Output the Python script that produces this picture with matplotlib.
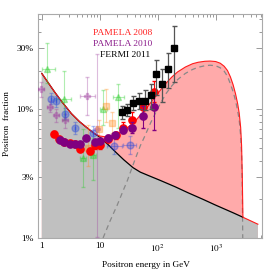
import matplotlib
matplotlib.use("Agg")
import matplotlib.pyplot as plt
from matplotlib.ticker import FixedLocator, NullFormatter

plt.rcParams['font.family'] = ['Liberation Serif', 'DejaVu Serif']
plt.rcParams['mathtext.fontset'] = 'stix'

# ---- model curves ----
bkg_E = [1, 1.3, 1.67, 2.2, 3.24, 4.5, 6.28, 8, 10, 14, 19, 26, 37.5, 50, 70, 109, 200,
         331, 600, 1000, 2000, 2950, 5350]
bkg_f = [0.190, 0.160, 0.136, 0.115, 0.0926, 0.080, 0.0708, 0.065, 0.0609, 0.053, 0.0463,
         0.0405, 0.0352, 0.0325, 0.0305, 0.0281, 0.0250, 0.0225, 0.0200, 0.0180, 0.0157,
         0.0145, 0.0128]

tot_E = [1, 1.3, 1.67, 2.2, 3.24, 4.5, 6.28, 8, 10, 13, 16, 20, 25, 30, 40, 50, 60, 75, 90,
         110, 140, 175, 220, 300, 400, 500, 650, 800, 1000, 1200, 1400, 1600, 1800, 2000,
         2200, 2400, 2550, 2700, 2800, 2880, 2930, 2950, 5350]
tot_f = [0.190, 0.160, 0.136, 0.115, 0.0926, 0.080, 0.0708, 0.065, 0.0620, 0.0610, 0.062,
         0.064, 0.068, 0.072, 0.080, 0.090, 0.098, 0.112, 0.125, 0.140, 0.160, 0.178, 0.195,
         0.213, 0.226, 0.232, 0.236, 0.237, 0.235, 0.228, 0.216, 0.200, 0.178, 0.155, 0.132,
         0.110, 0.093, 0.072, 0.052, 0.030, 0.018, 0.0145, 0.0128]

sig_E = [11.4, 15, 20, 25, 30, 40, 50, 60, 75, 90, 110, 140, 175, 220, 300, 400, 500, 650,
         800, 1000, 1200, 1400, 1600, 1800, 2000, 2200, 2400, 2550, 2700, 2800, 2880, 2930,
         2950]
sig_f = [0.010, 0.0135, 0.018, 0.023, 0.028, 0.040, 0.052, 0.062, 0.078, 0.092, 0.110, 0.133,
         0.152, 0.170, 0.190, 0.204, 0.212, 0.218, 0.220, 0.218, 0.210, 0.198, 0.180, 0.157,
         0.137, 0.117, 0.097, 0.082, 0.062, 0.045, 0.025, 0.010, 0.005]

# ---- PAMELA 2008 ----
p08_E = [1.63, 1.96, 2.42, 3.04, 3.8, 4.52, 6.89, 8.4, 10.1, 14.1, 18.9, 25.5, 36.5, 55.8, 84.7]
p08_f = [0.0647, 0.0592, 0.0557, 0.0547, 0.0537, 0.0494, 0.0473, 0.0525, 0.0525, 0.0592,
         0.0628, 0.0721, 0.082, 0.104, 0.136]
p08_lo = [0.062, 0.057, 0.0535, 0.0525, 0.0515, 0.0472, 0.0450, 0.0495, 0.0495, 0.0555,
          0.0585, 0.066, 0.0708, 0.0898, 0.114]
p08_hi = [0.0675, 0.0615, 0.058, 0.057, 0.056, 0.0516, 0.0496, 0.0555, 0.0555, 0.063,
          0.067, 0.079, 0.0953, 0.121, 0.167]

# ---- PAMELA 2010 ----
p10_E = [2.04, 2.42, 3.04, 3.7, 4.52, 5.87, 8.2, 10, 13.9, 18.1, 25.5, 36.5, 56.4, 84.7]
p10_f = [0.058, 0.0557, 0.0541, 0.0541, 0.0541, 0.0598, 0.0557, 0.0564, 0.0603, 0.0628,
         0.0695, 0.072, 0.0882, 0.104]
p10_lo = [0.0565, 0.0543, 0.0528, 0.0528, 0.0527, 0.058, 0.054, 0.0545, 0.058, 0.060,
          0.065, 0.065, 0.071, 0.0687]
p10_hi = [0.0595, 0.0571, 0.0555, 0.0555, 0.0556, 0.0616, 0.0575, 0.0584, 0.0627, 0.0658,
          0.0742, 0.080, 0.106, 0.128]

# ---- FERMI 2011 ----
fer_E = [23.9, 29.6, 37.5, 47.2, 59.2, 75.2, 94.6, 118, 151, 191]
fer_f = [0.0948, 0.0982, 0.112, 0.116, 0.116, 0.130, 0.187, 0.158, 0.207, 0.299]
fer_lo = [0.0847, 0.088, 0.098, 0.100, 0.098, 0.101, 0.128, 0.114, 0.147, 0.163]
fer_hi = [0.107, 0.110, 0.127, 0.133, 0.140, 0.158, 0.240, 0.207, 0.275, 0.44]

# ---- older (faded) data sets ----
grn_E = [1.25, 2.42, 5.2, 7.7, 11.5, 20.9]
grn_f = [0.207, 0.121, 0.042, 0.044, 0.10, 0.124]
grn_lo = [0.16, 0.083, 0.025, 0.028, 0.075, 0.071]
grn_hi = [0.326, 0.2, 0.07, 0.06, 0.14, 0.158]
grn_xlo = [1.0, 1.76, 4.6, 6.8, 10.0, 17.0]
grn_xhi = [1.7, 3.2, 5.9, 8.7, 13.2, 26.0]

mau_E = [0.96, 1.37, 1.78, 2.5, 6.1, 8.8]
mau_f = [0.145, 0.104, 0.09, 0.082, 0.127, 0.07]
mau_lo = [0.125, 0.095, 0.08, 0.072, 0.09, 0.0101]
mau_hi = [0.163, 0.115, 0.10, 0.092, 0.178, 0.27]
mau_xlo = [0.86, 1.22, 1.6, 2.25, 4.5, 8.2]
mau_xhi = [1.1, 1.52, 1.98, 2.8, 8.2, 9.4]

blu_E = [1.43, 1.78, 2.55, 3.7, 7.7, 17.5, 33]
blu_f = [0.121, 0.115, 0.0926, 0.0715, 0.0659, 0.052, 0.053]
blu_lo = [0.11, 0.104, 0.084, 0.064, 0.058, 0.045, 0.045]
blu_hi = [0.133, 0.127, 0.102, 0.079, 0.074, 0.060, 0.062]
blu_xlo = [1.43, 1.78, 2.55, 3.7, 7.7, 13.1, 25.0]
blu_xhi = [1.43, 1.78, 2.55, 3.7, 7.7, 24.0, 42.0]

org_E = [6.3, 9.6, 12.6, 16.0]
org_f = [0.05, 0.07, 0.106, 0.078]
org_lo = [0.036, 0.06, 0.08, 0.065]
org_hi = [0.075, 0.082, 0.145, 0.095]

# ---- figure ----
W, H = 266, 271
fig = plt.figure(figsize=(W / 100, H / 100), dpi=100)
ax = fig.add_axes([38 / W, 1 - 238 / H, 224 / W, 224 / H])
ax.set_xscale('log')
ax.set_yscale('log')
ax.set_xlim(0.86, 6300)
ax.set_ylim(0.01, 0.55)

ax.fill_between(tot_E, tot_f, 1e-3, color='#ffaaaa', lw=0, zorder=1)
ax.fill_between(bkg_E, bkg_f, 1e-3, color='#c0c0c0', lw=0, zorder=2)
ax.plot(sig_E, sig_f, color='#888888', lw=0.9, ls=(0, (4, 3)), zorder=3)
ax.plot(bkg_E[:-1], bkg_f[:-1], color='black', lw=0.9, zorder=3)
ax.plot(tot_E, tot_f, color='#ff1a1a', lw=0.8, zorder=3)


def eb(E, f, lo, hi, xlo=None, xhi=None, **kw):
    yerr = [[a - b for a, b in zip(f, lo)], [b - a for a, b in zip(f, hi)]]
    xerr = None
    if xlo is not None:
        xerr = [[a - b for a, b in zip(E, xlo)], [b - a for a, b in zip(E, xhi)]]
    ax.errorbar(E, f, yerr=yerr, xerr=xerr, **kw)


faded = dict(ls='none', elinewidth=0.8, capsize=1.5, alpha=0.35, zorder=4)
eb(grn_E, grn_f, grn_lo, grn_hi, grn_xlo, grn_xhi, marker='^', ms=4,
   color='#22cc22', ecolor='#22cc22', **faded)
eb(mau_E, mau_f, mau_lo, mau_hi, mau_xlo, mau_xhi, marker='P', ms=4.5,
   color='#a040a0', ecolor='#a040a0', **faded)
eb(blu_E, blu_f, blu_lo, blu_hi, blu_xlo, blu_xhi, marker='o', ms=5,
   color='#2244dd', ecolor='#2244dd', **faded)
eb(org_E, org_f, org_lo, org_hi, marker='s', ms=4.5,
   color='#ff8c1a', ecolor='#ff8c1a', **faded)

eb(p08_E, p08_f, p08_lo, p08_hi, marker='o', ms=5.2, ls='none', color='#ff0000',
   ecolor='#ff0000', elinewidth=0.8, capsize=1.5, zorder=5)
eb(p10_E, p10_f, p10_lo, p10_hi, marker='o', ms=5.2, ls='none', color='#800080',
   ecolor='#800080', elinewidth=0.8, capsize=1.5, zorder=6)
eb(fer_E, fer_f, fer_lo, fer_hi, marker='s', ms=4.3, ls='none', color='black',
   ecolor='#555555', elinewidth=0.9, capsize=1.8, zorder=7)

# ---- ticks ----
ax.xaxis.set_major_locator(FixedLocator([1, 10, 100, 1000]))
ax.set_xticklabels(['1', '10', '$10^2$', '$10^3$'])
xminor = [m * 10 ** k for k in range(0, 4) for m in range(2, 10)]
ax.xaxis.set_minor_locator(FixedLocator(xminor))
ax.xaxis.set_minor_formatter(NullFormatter())
ax.yaxis.set_major_locator(FixedLocator([0.01, 0.03, 0.1, 0.3]))
ax.set_yticklabels(['1%', '3%', '10%', '30%'])
ax.yaxis.set_minor_locator(FixedLocator([0.02, 0.04, 0.05, 0.06, 0.07, 0.08, 0.09,
                                         0.2, 0.4, 0.5]))
ax.yaxis.set_minor_formatter(NullFormatter())
ax.tick_params(which='both', direction='in', top=True, right=True,
               color='#999999', width=0.7, labelsize=6.7, labelcolor='black')
ax.tick_params(which='major', length=4, pad=3)
ax.tick_params(which='minor', length=2)
for s in ax.spines.values():
    s.set_color('#aaaaaa')
    s.set_linewidth(0.8)

fig.text(146 / W, 1 - 265 / H, 'Positron energy in GeV', fontsize=6.7,
         ha='center', va='center')
fig.text(7.5 / W, 1 - 124 / H, 'Positron  fraction', fontsize=6.7,
         ha='center', va='center', rotation=90)

fig.text(123 / W, 1 - 33 / H, 'PAMELA 2008', color='#ff2020', fontsize=6.8,
         ha='center', va='center')
fig.text(123 / W, 1 - 44 / H, 'PAMELA 2010', color='#8a1a8a', fontsize=6.8,
         ha='center', va='center')
fig.text(125 / W, 1 - 55 / H, 'FERMI 2011', color='black', fontsize=6.8,
         ha='center', va='center')

fig.savefig('out.png', dpi=100)
